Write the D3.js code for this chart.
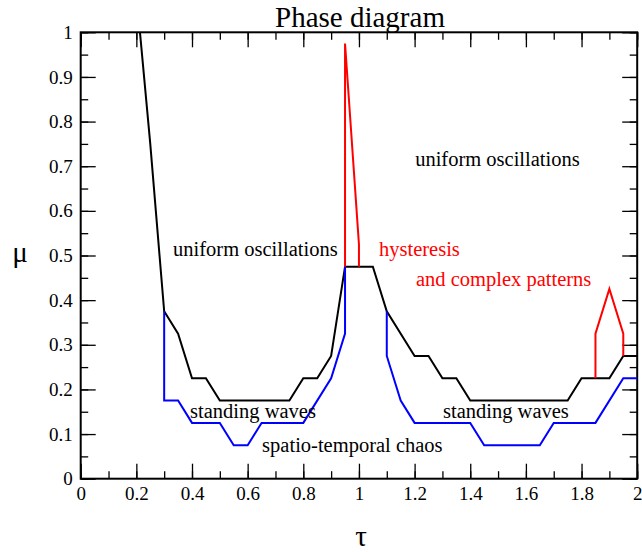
<!DOCTYPE html>
<html>
<head>
<meta charset="utf-8">
<script src="https://cdn.jsdelivr.net/npm/d3@7"></script>
<style>
  body { margin: 0; background: #fff; }
</style>
</head>
<body>
<div id="chart"></div>
<script>
// boundary curves of the phase diagram (tau, mu)
const blackTau = [0.213, 0.25, 0.3, 0.35, 0.4, 0.45, 0.5, 0.75, 0.8, 0.85, 0.9, 0.95, 1.05, 1.1, 1.2, 1.25, 1.3, 1.35, 1.4, 1.75, 1.8, 1.9, 1.95, 2.0]
const blackMu  = [1.0, 0.75, 0.375, 0.325, 0.225, 0.225, 0.175, 0.175, 0.225, 0.225, 0.275, 0.475, 0.475, 0.375, 0.275, 0.275, 0.225, 0.225, 0.175, 0.175, 0.225, 0.225, 0.275, 0.275]

const blueLeftTau = [0.3, 0.3, 0.35, 0.4, 0.5, 0.55, 0.6, 0.65, 0.8, 0.9, 0.95, 0.95]
const blueLeftMu  = [0.375, 0.175, 0.175, 0.125, 0.125, 0.075, 0.075, 0.125, 0.125, 0.225, 0.325, 0.475]

const blueRightTau = [1.1, 1.1, 1.15, 1.2, 1.4, 1.45, 1.65, 1.7, 1.85, 1.95, 2.0]
const blueRightMu  = [0.375, 0.275, 0.175, 0.125, 0.125, 0.075, 0.075, 0.125, 0.125, 0.225, 0.225]

const redSpikeTau = [0.95, 0.95, 1.0, 1.0]
const redSpikeMu  = [0.475, 0.975, 0.525, 0.475]

const redBumpTau = [1.85, 1.85, 1.9, 1.95, 1.95]
const redBumpMu  = [0.225, 0.325, 0.425, 0.325, 0.275]

const xTicks = [0, 0.2, 0.4, 0.6, 0.8, 1, 1.2, 1.4, 1.6, 1.8, 2]
const yTicks = [0, 0.1, 0.2, 0.3, 0.4, 0.5, 0.6, 0.7, 0.8, 0.9, 1]

const labelText = ["uniform oscillations", "uniform oscillations", "hysteresis", "and complex patterns", "standing waves", "spatio-temporal chaos", "standing waves"]
const labelTau  = [0.332, 1.202, 1.072, 1.205, 0.393, 0.652, 1.302]
const labelMu   = [0.499, 0.700, 0.499, 0.432, 0.135, 0.060, 0.135]
const labelRed  = [false, false, true, true, false, false, false]

const serif = "'Liberation Serif', 'Times New Roman', serif"
const W = 642, H = 552
const margin = {top: 32.3, right: 4.8, bottom: 73.3, left: 80.7}
const width = W - margin.left - margin.right
const height = H - margin.top - margin.bottom

const root = d3.select("#chart").append("svg")
    .attr("width", W)
    .attr("height", H)
    .style("font-family", serif)
const svg = root.append("g")
    .attr("transform", "translate(" + margin.left + "," + margin.top + ")")

const x = d3.scaleLinear().domain([0, 2]).range([0, width])
const y = d3.scaleLinear().domain([0, 1]).range([height, 0])

const fmt = d3.format("~g")
const xMinor = d3.range(0, 2.0001, 0.1)
const yMinor = d3.range(0, 1.0001, 0.05)

function styleAxis(g) {
    g.attr("font-family", serif).attr("font-size", 19)
    g.select(".domain").remove()
    g.selectAll("line").attr("stroke", "#000").attr("stroke-width", 1.3)
    g.selectAll("text").attr("fill", "#000")
        .style("font-family", serif).style("font-size", "19px")
}

// minor ticks on all four sides
svg.append("g").attr("transform", "translate(0," + height + ")")
    .call(d3.axisBottom(x).tickValues(xMinor).tickSize(-7.5).tickFormat("")).call(styleAxis)
svg.append("g")
    .call(d3.axisTop(x).tickValues(xMinor).tickSize(-7.5).tickFormat("")).call(styleAxis)
svg.append("g")
    .call(d3.axisLeft(y).tickValues(yMinor).tickSize(-7.5).tickFormat("")).call(styleAxis)
svg.append("g").attr("transform", "translate(" + width + ",0)")
    .call(d3.axisRight(y).tickValues(yMinor).tickSize(-7.5).tickFormat("")).call(styleAxis)

// major ticks
svg.append("g").attr("transform", "translate(0," + height + ")")
    .call(d3.axisBottom(x).tickValues(xTicks).tickSize(-15).tickPadding(8).tickFormat(fmt)).call(styleAxis)
svg.append("g")
    .call(d3.axisTop(x).tickValues(xTicks).tickSize(-15).tickFormat("")).call(styleAxis)
svg.append("g")
    .call(d3.axisLeft(y).tickValues(yTicks).tickSize(-15).tickPadding(8).tickFormat(fmt)).call(styleAxis)
svg.append("g").attr("transform", "translate(" + width + ",0)")
    .call(d3.axisRight(y).tickValues(yTicks).tickSize(-15).tickFormat("")).call(styleAxis)

svg.append("rect")
    .attr("width", width)
    .attr("height", height)
    .attr("fill", "none")
    .attr("stroke", "#000")
    .attr("stroke-width", 2)

const line = d3.line()
    .x(d => x(d[0]))
    .y(d => y(d[1]))

const curves = [
    [blackTau, blackMu, "#000"],
    [blueLeftTau, blueLeftMu, "#0000ff"],
    [blueRightTau, blueRightMu, "#0000ff"],
    [redSpikeTau, redSpikeMu, "#ff0000"],
    [redBumpTau, redBumpMu, "#ff0000"]
]
curves.forEach(function(c) {
    svg.append("path")
        .datum(d3.zip(c[0], c[1]))
        .attr("fill", "none")
        .attr("stroke", c[2])
        .attr("stroke-width", 2)
        .attr("d", line)
})

svg.selectAll(".note")
    .data(labelText)
    .join("text")
    .attr("class", "note")
    .attr("x", (d, i) => x(labelTau[i]))
    .attr("y", (d, i) => y(labelMu[i]))
    .attr("fill", (d, i) => labelRed[i] ? "#ff0000" : "#000")
    .style("font-size", "20.5px")
    .text(d => d)

root.append("text")
    .attr("x", 360)
    .attr("y", 27)
    .attr("text-anchor", "middle")
    .style("font-size", "29px")
    .text("Phase diagram")

root.append("text")
    .attr("x", 20)
    .attr("y", 262)
    .attr("text-anchor", "middle")
    .style("font-size", "29px")
    .text("μ")

root.append("text")
    .attr("x", 361)
    .attr("y", 546)
    .attr("text-anchor", "middle")
    .style("font-size", "29px")
    .text("τ")
</script>
</body>
</html>
